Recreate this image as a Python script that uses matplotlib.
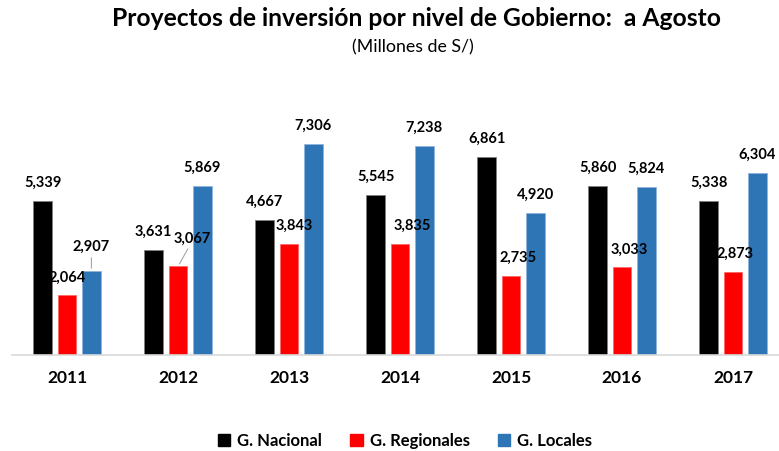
import matplotlib.pyplot as plt
import numpy as np
from matplotlib.patches import Patch

plt.rcParams['font.family'] = ['Lato', 'DejaVu Sans']

years = ['2011', '2012', '2013', '2014', '2015', '2016', '2017']
nacional = [5339, 3631, 4667, 5545, 6861, 5860, 5338]
regionales = [2064, 3067, 3843, 3835, 2735, 3033, 2873]
locales = [2907, 5869, 7306, 7238, 4920, 5824, 6304]

series = [
    ('G. Nacional', nacional, '#000000', '#7f7f7f'),
    ('G. Regionales', regionales, '#ff0000', '#ff6666'),
    ('G. Locales', locales, '#2e75b6', '#8fb4dc'),
]

# small horizontal nudges (in px) for the red labels, like the original
red_dx = [0, 14, 5, 12, 7, 7, 2]

fig = plt.figure(figsize=(7.79, 4.51), dpi=100)
ax = fig.add_axes([11.5 / 779, 96 / 451, 777 / 779, 231 / 451])

x = np.arange(len(years))
width = 0.17
offsets = [-0.22, 0.0, 0.22]

for (name, vals, color, edge), off in zip(series, offsets):
    bars = ax.bar(x + off, vals, width, color=color, edgecolor=edge,
                  linewidth=0.6, label=name)
    for i, b in enumerate(bars):
        cx = b.get_x() + b.get_width() / 2
        top = b.get_height()
        dx, dy = 0, 18
        if name == 'G. Regionales':
            dx = red_dx[i]
            if i == 1:
                dy = 28
        if name == 'G. Locales' and i == 0:
            dy = 24
        ax.annotate(f'{vals[i]:,}', (cx, top), xytext=(dx, dy),
                    textcoords='offset pixels', ha='center', va='center',
                    fontsize=10.5, fontweight='bold')
        if dy > 18:
            # leader line
            ax.annotate('', (cx, top), xytext=(dx * 0.8, dy - 8),
                        textcoords='offset pixels',
                        arrowprops=dict(arrowstyle='-', color='#a6a6a6', lw=0.8))

ax.set_xlim(-0.5, 6.5)
ax.set_ylim(0, 8000)
ax.set_yticks([])
ax.set_xticks(x)
ax.set_xticklabels(years, fontsize=12.5, fontweight='bold')
ax.tick_params(axis='x', length=0, pad=11)
for s in ['top', 'right', 'left']:
    ax.spines[s].set_visible(False)
ax.spines['bottom'].set_color('#d9d9d9')
ax.spines['bottom'].set_linewidth(1.2)

fig.text(416 / 779, 1 - 19 / 451, 'Proyectos de inversión por nivel de Gobierno:  a Agosto',
         ha='center', va='center', fontsize=17.7, fontweight='bold')
fig.text(413 / 779, 1 - 47 / 451, '(Millones de S/)', ha='center', va='center',
         fontsize=12.8)

handles = [Patch(facecolor=c, edgecolor=c) for _, _, c, _ in series]
fig.legend(handles, [s[0] for s in series], loc='center',
           bbox_to_anchor=(405 / 779, 1 - 441 / 451), ncol=3, frameon=False,
           prop={'size': 12, 'weight': 'bold'}, handlelength=0.75,
           handleheight=0.75, handletextpad=0.4, columnspacing=1.7)

fig.savefig('out.png', dpi=100)
